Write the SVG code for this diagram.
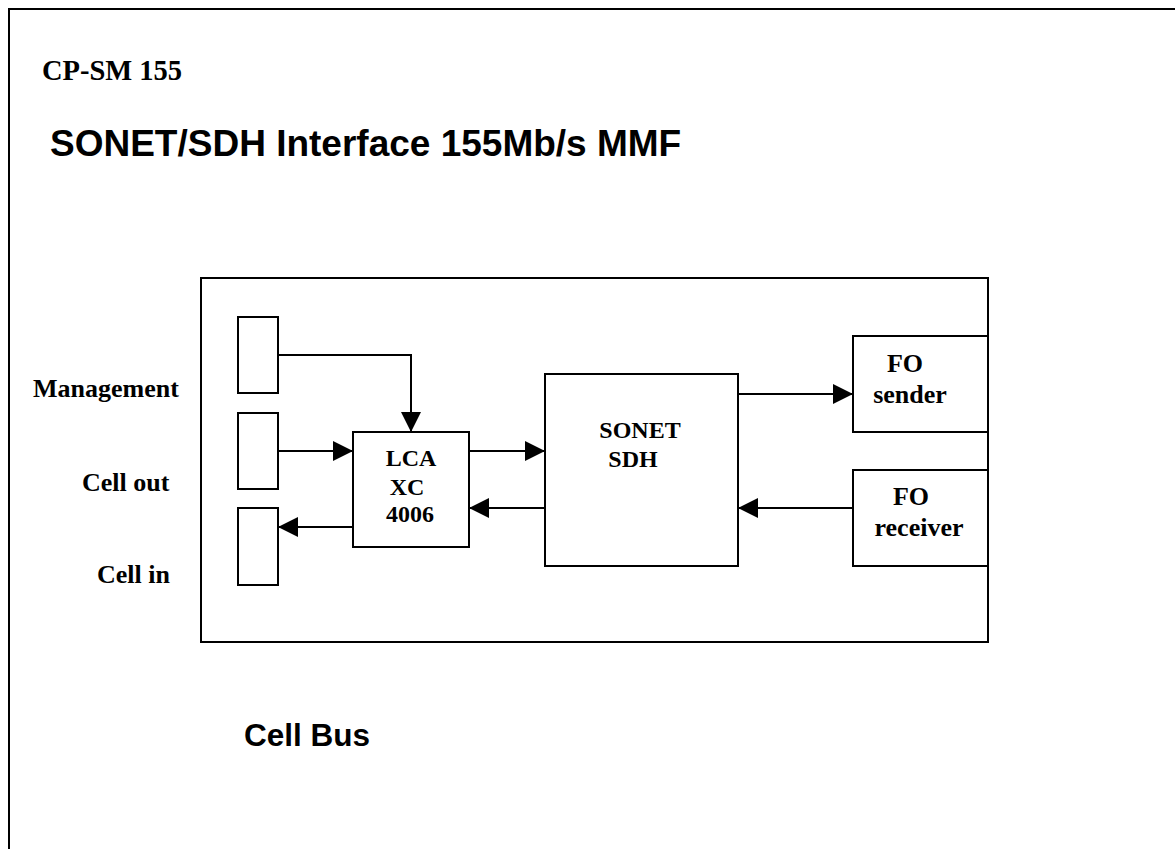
<svg xmlns="http://www.w3.org/2000/svg" width="1175" height="849" viewBox="0 0 1175 849">
<style>
.box{fill:#fff;stroke:#000;stroke-width:2}
.ln{fill:none;stroke:#000;stroke-width:2;marker-end:url(#ah)}
.tb{font-family:"Liberation Serif","Times New Roman",serif;font-weight:bold;font-size:26px;fill:#000}
.ab{font-family:"Liberation Sans",Arial,sans-serif;font-weight:bold;fill:#000}
</style>
<defs>
<marker id="ah" markerUnits="userSpaceOnUse" markerWidth="20" markerHeight="20" refX="20" refY="10" orient="auto" viewBox="0 0 20 20">
<path d="M0,0 L20,10 L0,20 z" fill="#000"/>
</marker>
</defs>
<rect width="1175" height="849" fill="#fff"/>
<path d="M9,849 V9 H1175" fill="none" stroke="#000" stroke-width="2"/>
<text class="tb" x="42" y="80" style="font-size:28.5px">CP-SM 155</text>
<text class="ab" x="50" y="156" style="font-size:37px">SONET/SDH Interface 155Mb/s MMF</text>
<text class="ab" x="244" y="746" style="font-size:31.5px">Cell Bus</text>
<g id="board"><rect class="box" x="201" y="278" width="787" height="364"/></g>
<g id="port-management"><rect class="box" x="238" y="317" width="40" height="76"/></g>
<g id="port-cellout"><rect class="box" x="238" y="413" width="40" height="76"/></g>
<g id="port-cellin"><rect class="box" x="238" y="508" width="40" height="77"/></g>
<text class="tb" x="33" y="397">Management</text>
<text class="tb" x="82" y="491">Cell out</text>
<text class="tb" x="97" y="583">Cell in</text>
<g id="lca"><rect class="box" x="353" y="432" width="116" height="115"/>
<text class="tb" x="411" y="466" text-anchor="middle" style="font-size:24px">LCA</text>
<text class="tb" x="407" y="495" text-anchor="middle" style="font-size:24px">XC</text>
<text class="tb" x="410" y="522" text-anchor="middle" style="font-size:24px">4006</text></g>
<g id="sonet"><rect class="box" x="545" y="374" width="193" height="192"/>
<text class="tb" x="640" y="438" text-anchor="middle" style="font-size:24px">SONET</text>
<text class="tb" x="633" y="467" text-anchor="middle" style="font-size:24px">SDH</text></g>
<g id="fo-sender"><rect class="box" x="853" y="336" width="135" height="96"/>
<text class="tb" x="905" y="372" text-anchor="middle">FO</text>
<text class="tb" x="910" y="403" text-anchor="middle">sender</text></g>
<g id="fo-receiver"><rect class="box" x="853" y="470" width="135" height="96"/>
<text class="tb" x="911" y="505" text-anchor="middle">FO</text>
<text class="tb" x="919" y="536" text-anchor="middle">receiver</text></g>
<g id="connectors">
<path class="ln" d="M278,355 H411 V432"/>
<path class="ln" d="M278,451 H353"/>
<path class="ln" d="M469,451 H545"/>
<path class="ln" d="M545,508 H469"/>
<path class="ln" d="M353,527 H278"/>
<path class="ln" d="M738,394 H853"/>
<path class="ln" d="M853,508 H738"/>
</g>
</svg>
